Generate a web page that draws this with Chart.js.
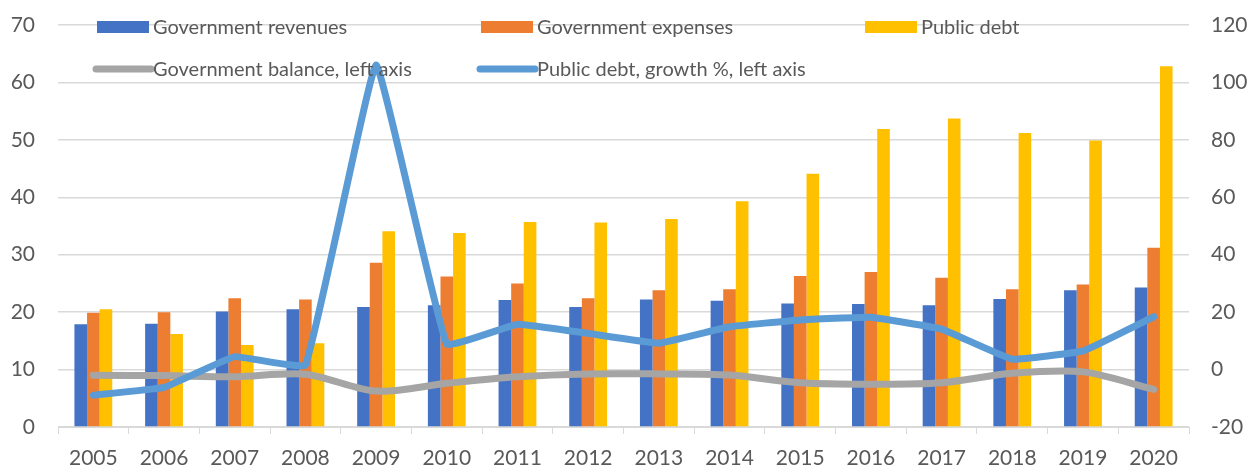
<!DOCTYPE html>
<html>
<head>
<meta charset="utf-8">
<script src="https://cdn.jsdelivr.net/npm/chart.js@4/dist/chart.umd.min.js"></script>
<style>
  html, body { margin: 0; padding: 0; background: #ffffff; }
  #wrap { width: 1249px; height: 466px; }
</style>
</head>
<body>
<div id="wrap"><canvas id="chart" width="1249" height="466"></canvas></div>
<script>
// Years on the category axis
const years = ['2005','2006','2007','2008','2009','2010','2011','2012','2013','2014','2015','2016','2017','2018','2019','2020'];

// Bar series (left axis)
const revenues = [17.9, 18.0, 20.1, 20.5, 20.9, 21.2, 22.1, 20.9, 22.2, 22.0, 21.5, 21.4, 21.2, 22.3, 23.8, 24.3];
const expenses = [19.9, 20.0, 22.4, 22.2, 28.6, 26.2, 25.0, 22.4, 23.8, 24.0, 26.3, 27.0, 26.0, 24.0, 24.8, 31.2];
const publicDebt = [20.5, 16.2, 14.3, 14.6, 34.1, 33.8, 35.7, 35.6, 36.2, 39.3, 44.1, 51.9, 53.7, 51.2, 49.9, 62.8];

// Line series (plotted against the right-hand scale)
const balance = [-2.0, -2.1, -2.5, -1.6, -7.5, -4.8, -2.5, -1.5, -1.5, -1.9, -4.6, -5.1, -4.6, -1.3, -0.8, -6.9];
const debtGrowth = [-8.9, -6.2, 4.5, 1.6, 106.1, 8.9, 15.8, 12.6, 9.2, 14.9, 17.3, 18.2, 14.1, 3.6, 6.5, 18.4];

// Axis ranges
const leftMin = 0, leftMax = 70, leftStep = 2, leftLabelStep = 10;
const rightMin = -20, rightMax = 120, rightStep = 20;

// Legend entries
const legendItems = [
  { label: 'Government revenues', color: '#4472C4', kind: 'box', row: 0, col: 0 },
  { label: 'Government expenses', color: '#ED7D31', kind: 'box', row: 0, col: 1 },
  { label: 'Public debt', color: '#FFC000', kind: 'box', row: 0, col: 2 },
  { label: 'Government balance, left axis', color: '#A5A5A5', kind: 'line', row: 1, col: 0 },
  { label: 'Public debt, growth %, left axis', color: '#5B9BD5', kind: 'line', row: 1, col: 1 }
];

const FONT = 'Lato, "Open Sans", sans-serif';
const TEXT = '#595959';

// Legend painted inside the plot, on two rows
const insideLegend = {
  id: 'insideLegend',
  afterDraw(chart) {
    const ctx = chart.ctx;
    const colX = [97, 481, 865];
    const rowY = [27, 69];
    ctx.save();
    ctx.font = '20px ' + FONT;
    ctx.textBaseline = 'middle';
    legendItems.forEach(it => {
      const x = colX[it.col];
      const y = rowY[it.row];
      if (it.kind === 'box') {
        ctx.fillStyle = it.color;
        ctx.fillRect(x, y - 6, 52, 12);
      } else {
        ctx.strokeStyle = it.color;
        ctx.lineWidth = 7;
        ctx.lineCap = 'round';
        ctx.beginPath();
        ctx.moveTo(x - 1, y);
        ctx.lineTo(x + 54, y);
        ctx.stroke();
      }
      ctx.fillStyle = TEXT;
      ctx.fillText(it.label, x + 56, y + 1);
    });
    ctx.restore();
  }
};

// Vertical scales: keep fixed widths and let the plot reach the top padding
const fixVertical = width => s => { s.width = width; s.paddingTop = 0; s.paddingBottom = 0; };

const barStyle = { categoryPercentage: 0.535, barPercentage: 1.0, yAxisID: 'y', order: 3, borderWidth: 0 };
const lineStyle = { type: 'line', yAxisID: 'y1', borderWidth: 7, pointRadius: 0,
  borderCapStyle: 'round', borderJoinStyle: 'round', fill: false };

new Chart(document.getElementById('chart'), {
  type: 'bar',
  data: {
    labels: years,
    datasets: [
      Object.assign({ label: 'Government revenues', data: revenues, backgroundColor: '#4472C4' }, barStyle),
      Object.assign({ label: 'Government expenses', data: expenses, backgroundColor: '#ED7D31' }, barStyle),
      Object.assign({ label: 'Public debt', data: publicDebt, backgroundColor: '#FFC000' }, barStyle),
      Object.assign({ label: 'Government balance, left axis', data: balance, borderColor: '#A5A5A5', backgroundColor: '#A5A5A5', order: 1, tension: 0.3 }, lineStyle),
      Object.assign({ label: 'Public debt, growth %, left axis', data: debtGrowth, borderColor: '#5B9BD5', backgroundColor: '#5B9BD5', order: 0, tension: 0.08 }, lineStyle)
    ]
  },
  options: {
    responsive: false,
    animation: false,
    devicePixelRatio: 1,
    layout: { padding: { top: 25, left: 0, right: 0, bottom: 0 } },
    plugins: { legend: { display: false }, tooltip: { enabled: false } },
    scales: {
      x: {
        offset: true,
        grid: { offset: true, drawOnChartArea: false, drawTicks: true, tickLength: 7, color: '#d9d9d9' },
        border: { color: '#d9d9d9', width: 1 },
        ticks: { color: TEXT, font: { family: FONT, size: 21 }, padding: 12, maxRotation: 0 },
        afterFit(s) { s.height = 39; }
      },
      y: {
        position: 'left',
        min: leftMin, max: leftMax,
        border: { display: false },
        grid: {
          drawTicks: false,
          color: c => (c.tick && c.tick.value % leftLabelStep === 0) ? '#d9d9d9' : '#f0f0f0',
          lineWidth: 1.5
        },
        ticks: {
          stepSize: leftStep,
          autoSkip: false,
          color: TEXT,
          font: { family: FONT, size: 21 },
          padding: 23,
          callback: v => (v % leftLabelStep === 0) ? v : null
        },
        afterFit: fixVertical(58)
      },
      y1: {
        position: 'right',
        min: rightMin, max: rightMax,
        border: { display: false },
        grid: { drawOnChartArea: false, drawTicks: false },
        ticks: { stepSize: rightStep, color: TEXT, font: { family: FONT, size: 21 }, padding: 22 },
        afterFit: fixVertical(60)
      }
    }
  },
  plugins: [insideLegend]
});
</script>
</body>
</html>
